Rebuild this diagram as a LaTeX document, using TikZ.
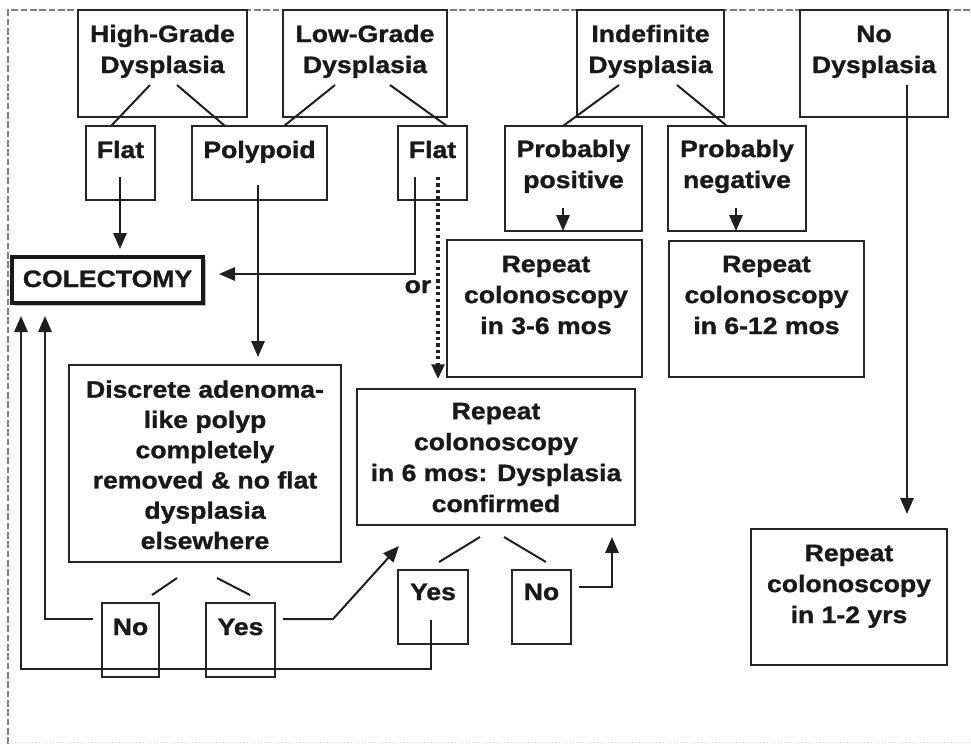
\documentclass[tikz,border=0pt]{standalone}
\usepackage{fontspec}
\setmainfont{Liberation Sans}[FakeStretch=1.12, BoldFeatures={FakeBold=1.2}]
\usetikzlibrary{arrows.meta,calc}
\newcommand\mybox[5]{\node[bx, minimum width={(#4-#2)*0.75pt}, minimum height={(#5-#3)*0.75pt}] (#1) at ({(#2+#4)/2},{(#3+#5)/2}) {};}
\tikzset{
 bx/.style={draw=black!85, line width=1.4pt, inner sep=0pt, outer sep=0pt},
 tx/.style={font=\fontsize{17.8}{23.2}\selectfont\bfseries, align=center, inner sep=0pt, anchor=base, text=black!90},
 ln/.style={line width=1.5pt, draw=black!88},
 ar/.style={ln, -{Triangle[length=12pt,width=10pt]}},
 dotar/.style={draw=black!88, line width=2.4pt, dash pattern=on 2.4pt off 2.4pt, -{Triangle[length=11pt,width=9.5pt]}},
}
\begin{document}
\begin{tikzpicture}[x=0.75pt,y=-0.75pt]
\useasboundingbox (0,0) rectangle (971,744);
% frame
\draw[gray, line width=0.8pt, dash pattern=on 5pt off 2pt] (8,744) -- (8,10) -- (971,10);
\draw[gray!35, line width=0.6pt, dotted] (8,742) -- (971,742);
% boxes
\mybox{hg}{78}{10}{247}{117}
\mybox{lg}{283}{10}{447}{117}
\mybox{ind}{577}{10}{724}{117}
\mybox{nod}{800}{10}{948}{117}
\mybox{flat1}{86}{126}{155}{200}
\mybox{poly}{192}{126}{327}{200}
\mybox{flat2}{398}{126}{467}{200}
\mybox{pp}{505}{126}{642}{231}
\mybox{pn}{668}{126}{806}{231}
\mybox{rA}{447}{240}{642}{377}
\mybox{rB}{669}{241}{864}{377}
\mybox{disc}{69}{365}{341}{562}
\mybox{rC}{357}{389}{635}{525}
\mybox{no1}{102}{603}{159}{677}
\mybox{yes1}{206}{603}{275}{677}
\mybox{yes2}{398}{570}{468}{644}
\mybox{no2}{512}{570}{571}{644}
\mybox{rD}{751}{529}{947}{665}
% colectomy
\fill[gray!55] (15,260) rectangle (206,306);
\node[draw=black!90, fill=white, line width=2.6pt, inner sep=0pt, minimum width={191*0.75pt}, minimum height={46*0.75pt}] (col) at (107.5,280) {};
% texts (anchor = baseline of last line)
\node[tx] (t-hg) at (162.5,73) {High-Grade\\Dysplasia};
\node[tx] (t-lg) at (365,73) {Low-Grade\\Dysplasia};
\node[tx] (t-ind) at (650.5,73) {Indefinite\\Dysplasia};
\node[tx] (t-nod) at (874,73) {No\\Dysplasia};
\node[tx] (t-flat1) at (120.5,158) {Flat};
\node[tx] (t-poly) at (259.5,158) {Polypoid};
\node[tx] (t-flat2) at (432.5,158) {Flat};
\node[tx] (t-pp) at (573.5,188) {Probably\\positive};
\node[tx] (t-pn) at (737,188) {Probably\\negative};
\node[tx] (t-rA) at (546,334) {Repeat\\colonoscopy\\in 3-6 mos};
\node[tx] (t-rB) at (766.5,334) {Repeat\\colonoscopy\\in 6-12 mos};
\node[tx] (t-col) at (107.5,287) {COLECTOMY};
\node[tx] (t-or) at (418,293) {or};
\node[tx, font=\fontsize{17.8}{22.7}\selectfont\bfseries] (t-disc) at (205,549) {Discrete adenoma-\\like polyp\\completely\\removed \& no flat\\dysplasia\\elsewhere};
\node[tx] (t-rC) at (496,512) {Repeat\\colonoscopy\\in 6 mos: Dysplasia\\confirmed};
\node[tx] (t-no1) at (130.5,635) {No};
\node[tx] (t-yes1) at (240.5,635) {Yes};
\node[tx] (t-yes2) at (433,600) {Yes};
\node[tx] (t-no2) at (541.5,600) {No};
\node[tx] (t-rD) at (849,623) {Repeat\\colonoscopy\\in 1-2 yrs};
% free-end coordinates
\coordinate (hgL) at (150,85); \coordinate (hgR) at (177,85);
\coordinate (lgL) at (335,85); \coordinate (lgR) at (390,85);
\coordinate (indL) at (619,85); \coordinate (indR) at (677,85);
\coordinate (nodS) at (907,85); \coordinate (nodE) at (907,514);
\coordinate (f1S) at (120,177); \coordinate (f1E) at (120,249);
\coordinate (pS) at (258,185); \coordinate (pE) at (258,357);
\coordinate (f2S) at (415,177); \coordinate (f2C) at (415,274); \coordinate (f2E) at (219,274);
\coordinate (dS) at (438,177); \coordinate (dE) at (438,379);
\coordinate (ppS) at (563,208); \coordinate (pnS) at (736,208);
\coordinate (dnL) at (177,578); \coordinate (dnLe) at (152,595);
\coordinate (dnR) at (217,578); \coordinate (dnRe) at (250,595);
\coordinate (rcL) at (480,537); \coordinate (rcLe) at (439,562);
\coordinate (rcR) at (504,537); \coordinate (rcRe) at (546,562);
\coordinate (n1S) at (93,619); \coordinate (n1C) at (45,619); \coordinate (n1E) at (45,316);
\coordinate (y1S) at (283,619); \coordinate (y1C) at (333,619); \coordinate (y1E) at (399,546);
\coordinate (n2S) at (579,587); \coordinate (n2C) at (612,587); \coordinate (n2E) at (612,537);
\coordinate (y2S) at (431,620); \coordinate (y2C) at (431,669); \coordinate (y2D) at (21,669); \coordinate (y2E) at (21,316);
% connectors
\draw[ln] (hgL) -- (111,0 |- flat1.north);
\draw[ln] (hgR) -- (225,0 |- poly.north);
\draw[ln] (lgL) -- (284,0 |- poly.north);
\draw[ln] (lgR) -- (447,0 |- flat2.north);
\draw[ln] (indL) -- (563,0 |- pp.north);
\draw[ln] (indR) -- (727,0 |- pn.north);
\draw[ar] (nodS) -- (nodE);
\draw[ar] (f1S) -- (f1E);
\draw[ar] (pS) -- (pE);
\draw[ar] (f2S) -- (f2C) -- (f2E);
\draw[dotar] (dS) -- (dE);
\draw[ar] (ppS) -- (ppS |- pp.south);
\draw[ar] (pnS) -- (pnS |- pn.south);
\draw[ln] (dnL) -- (dnLe);
\draw[ln] (dnR) -- (dnRe);
\draw[ln] (rcL) -- (rcLe);
\draw[ln] (rcR) -- (rcRe);
\draw[ar] (n1S) -- (n1C) -- (n1E);
\draw[ar] (y1S) -- (y1C) -- (y1E);
\draw[ar] (n2S) -- (n2C) -- (n2E);
\draw[ar] (y2S) -- (y2C) -- (y2D) -- (y2E);
\end{tikzpicture}
\end{document}
